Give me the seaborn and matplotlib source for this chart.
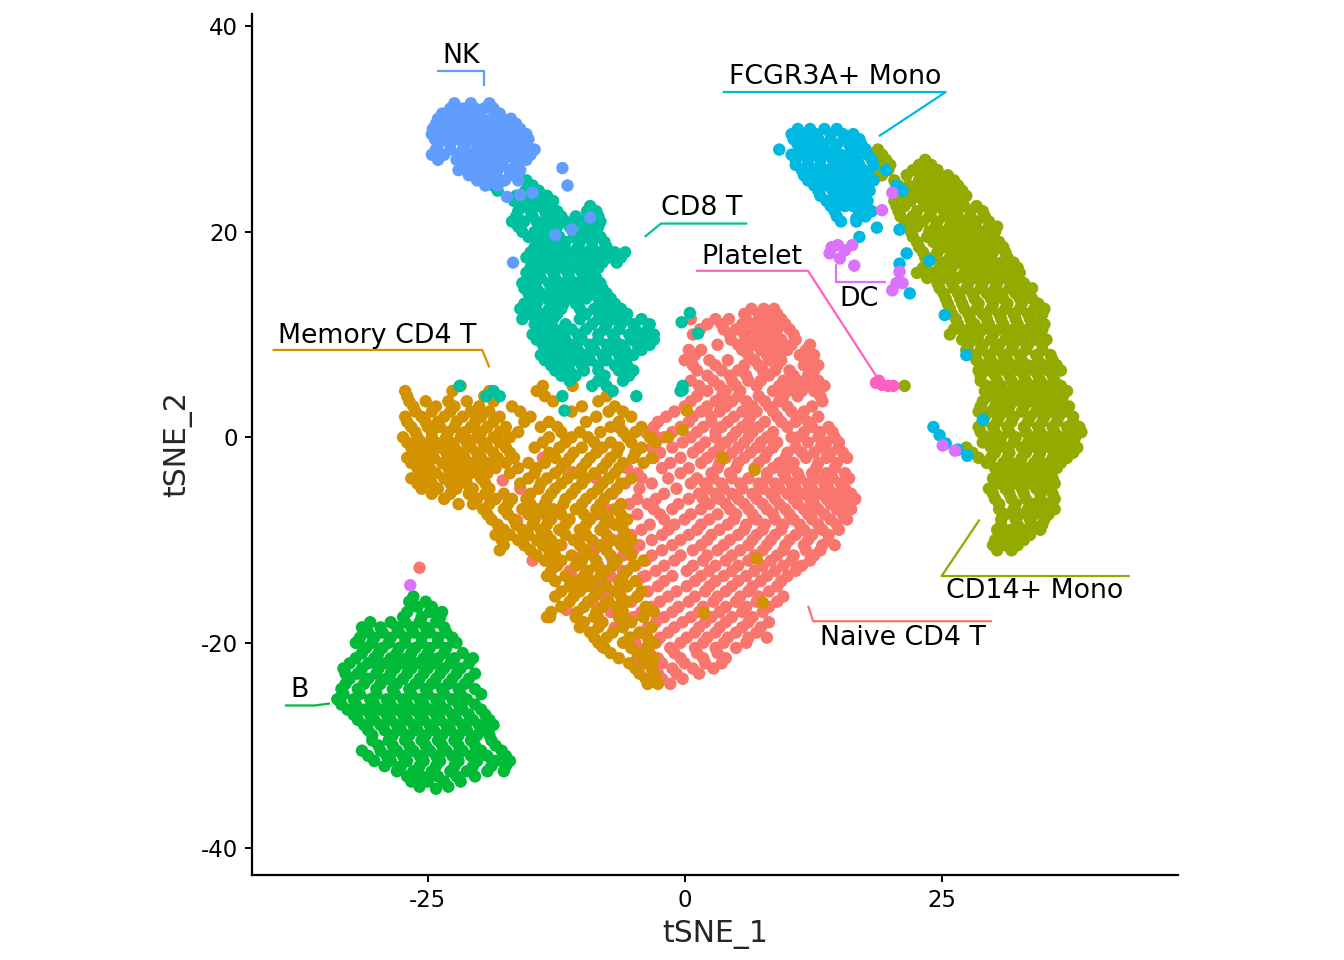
import numpy as np
import pandas as pd
import matplotlib
matplotlib.use("Agg")
import matplotlib.pyplot as plt
import seaborn as sns

# ------------------------------------------------------------
# cluster names + ggplot-style hue colours
# ------------------------------------------------------------
clusters = ["Naive CD4 T", "Memory CD4 T", "CD14+ Mono", "B", "CD8 T",
            "FCGR3A+ Mono", "NK", "DC", "Platelet"]
colors = ["#F8766D", "#D39200", "#93AA00", "#00BA38", "#00C19F",
          "#00B9E3", "#619CFF", "#DB72FB", "#FF61C3"]

# ------------------------------------------------------------
# cell coordinates, row by row (tSNE_2: [tSNE_1 ...])
# ------------------------------------------------------------
naive_rows = {
    12.5: [6.5, 7.7, 8.7],
    11.5: [0.6, 3.0, 4.3, 6.0, 7.2, 8.4, 9.4],
    10.5: [1.5, 3.8, 5.0, 6.6, 7.8, 9.0, 10.2],
    9.5: [4.5, 6.0, 7.0, 8.2, 9.4, 10.8],
    8.5: [0.4, 1.6, 5.6, 7.4, 8.8, 10.0, 11.8],
    7.5: [0.0, 2.4, 4.2, 6.8, 8.2, 9.4, 12.2],
    6.5: [1.2, 3.6, 5.2, 7.6, 8.8, 10.2, 12.6],
    5.5: [0.6, 2.8, 4.6, 6.2, 7.4, 9.6, 11.0, 13.0],
    4.5: [2.2, 4.0, 5.4, 8.6, 10.0, 11.4, 12.6],
    3.5: [0.6, 3.0, 4.6, 6.0, 7.8, 9.2, 13.4],
    2.5: [-1.0, 1.6, 3.4, 5.6, 7.0, 8.6, 10.4, 11.6],
    1.5: [-2.6, 0.4, 2.6, 4.2, 6.2, 7.8, 9.4, 10.8, 12.0],
    0.5: [-3.8, -1.2, 1.2, 3.0, 5.0, 6.6, 8.6, 11.6, 13.2, 14.4],
    -0.5: [-0.2, 2.0, 4.0, 5.8, 7.4, 9.0, 12.0, 13.8, 15.0],
    -1.5: [-2.4, 0.8, 2.8, 4.6, 6.4, 8.0, 10.0, 11.4, 12.6, 14.2, 15.4],
    -2.5: [-1.4, 1.6, 3.4, 5.2, 7.2, 9.2, 10.6, 13.0, 14.8],
    -3.5: [-4.6, -0.4, 2.6, 4.4, 8.0, 9.6, 11.0, 12.4, 13.8, 15.6],
    -4.5: [-5.8, -3.2, 0.6, 2.0, 3.6, 5.4, 7.2, 8.8, 10.4, 12.0, 13.6, 15.2],
    -5.5: [-7.0, -2.0, 1.4, 3.0, 4.6, 6.6, 8.4, 10.0, 11.6, 13.2, 14.6, 16.2],
    -6.5: [-5.4, -3.6, -0.6, 2.4, 4.0, 5.8, 7.6, 9.2, 11.0, 12.6, 14.2, 15.8],
    -7.5: [-8.6, -4.6, -2.4, 0.6, 3.2, 5.0, 6.6, 8.6, 10.2, 12.0, 13.6, 15.4],
    -8.5: [-6.8, -3.4, -1.0, 1.6, 4.2, 6.0, 7.8, 9.6, 11.2, 13.0, 14.8],
    -9.5: [-9.6, -5.2, -2.2, 0.4, 2.6, 5.2, 7.0, 8.8, 10.8, 12.4, 14.0],
    -10.5: [-12.0, -7.6, -4.4, -1.2, 1.6, 3.8, 6.2, 8.0, 9.8, 11.6, 13.4, 14.6],
    -11.5: [-10.0, -6.0, -3.2, -0.4, 2.2, 4.6, 6.8, 9.0, 10.6, 12.6],
    -12.5: [-8.4, -4.8, -2.0, 0.8, 3.0, 5.2, 7.6, 9.6, 11.4],
    -13.5: [-11.0, -7.2, -3.8, -1.2, 1.6, 3.8, 6.0, 8.0, 10.0],
    -14.5: [-9.0, -5.6, -2.6, 0.2, 2.4, 4.6, 6.6, 9.0],
    -15.5: [-7.8, -4.6, -1.6, 1.0, 3.2, 5.4, 7.2, 9.6],
    -16.5: [-6.4, -3.2, -0.6, 1.8, 4.0, 6.0, 8.2],
    -17.5: [-8.4, -5.0, -2.0, 0.6, 2.6, 4.6, 6.6],
    -18.5: [-6.8, -3.6, -1.0, 1.4, 3.4, 5.6, 7.4],
    -19.5: [-5.2, -2.4, 0.2, 2.2, 4.2, 6.2, 8.0],
    -20.5: [-3.8, -1.4, 1.0, 3.0, 5.0],
    -21.5: [-4.6, -2.6, -0.4, 1.8, 4.0],
    -22.5: [-3.2, -1.2, 0.8, 2.8],
    -23.5: [-2.2, -0.2],
}
naive_rows_mid = {
    12.0: [5.8, 7.2, 8.2, 9.0],
    11.0: [2.2, 3.6, 5.6, 6.8, 8.0, 9.8],
    10.0: [0.8, 4.4, 5.8, 7.2, 8.6, 10.6],
    9.0: [3.2, 5.2, 6.6, 7.8, 9.0, 10.4, 12.2],
    8.0: [1.0, 6.2, 8.0, 9.2, 11.2, 12.6],
    7.0: [0.8, 3.0, 5.8, 7.2, 9.0, 11.6, 13.0],
    6.0: [2.2, 4.4, 6.0, 8.2, 10.6, 12.0],
    5.0: [1.4, 3.4, 5.0, 7.0, 9.2, 10.6, 12.0, 13.6],
    4.0: [1.2, 3.6, 5.2, 7.2, 9.6, 11.0, 13.2],
    3.0: [0.0, 2.2, 4.0, 6.6, 8.2, 10.0, 12.4],
    2.0: [-1.8, 0.8, 2.6, 4.8, 6.4, 9.0, 11.2, 13.0],
    1.0: [-3.0, -0.4, 1.8, 3.6, 5.6, 7.2, 10.0, 12.4, 14.0],
    0.0: [-2.0, 0.6, 3.0, 4.6, 6.2, 8.0, 10.4, 11.0, 13.0, 14.6],
    -1.0: [-3.2, -1.2, 1.4, 3.4, 5.2, 7.0, 8.6, 10.8, 13.2, 15.0],
    -2.0: [-3.0, -0.4, 2.2, 4.0, 5.8, 7.8, 9.8, 11.8, 13.8, 15.8],
    -3.0: [-5.6, -2.2, 0.4, 3.2, 5.0, 6.8, 8.6, 10.2, 12.8, 14.6],
    -4.0: [-4.2, -1.6, 1.2, 2.8, 4.6, 6.2, 8.0, 9.8, 11.2, 12.8, 14.4, 16.0],
    -5.0: [-6.6, -4.4, -0.8, 2.2, 3.8, 5.6, 7.6, 9.2, 10.8, 12.4, 14.0, 15.6],
    -6.0: [-4.6, -2.8, 0.4, 1.8, 3.4, 5.2, 7.0, 8.8, 10.6, 12.2, 13.8, 15.2, 16.6],
    -7.0: [-7.6, -3.0, -1.2, 1.6, 4.4, 6.2, 8.0, 9.8, 11.6, 13.0, 14.8, 16.2],
    -8.0: [-5.6, -2.0, 0.0, 2.4, 4.8, 7.0, 8.8, 10.6, 12.4, 14.2, 15.8],
    -9.0: [-8.0, -4.2, -1.6, 1.2, 3.4, 5.8, 7.6, 9.4, 11.6, 13.4, 15.0],
    -10.0: [-10.6, -6.4, -3.2, -0.4, 2.2, 4.4, 6.6, 8.4, 10.2, 12.0, 14.0],
    -11.0: [-8.8, -5.0, -2.2, 0.8, 3.2, 5.4, 7.6, 9.6, 11.8, 13.2],
    -12.0: [-7.0, -3.8, -1.0, 1.8, 4.0, 6.2, 8.4, 10.4, 12.2],
    -13.0: [-9.6, -6.0, -2.8, 0.2, 2.4, 4.6, 6.8, 8.8, 10.8],
    -14.0: [-8.0, -4.6, -2.0, 1.0, 3.0, 5.2, 7.4, 9.4],
    -15.0: [-6.6, -3.6, -0.8, 2.0, 4.0, 6.2, 8.2],
    -16.0: [-9.0, -5.2, -2.4, 0.4, 2.8, 5.0, 7.0, 9.0],
    -17.0: [-7.2, -4.2, -1.2, 1.4, 3.4, 5.6, 7.6],
    -18.0: [-5.8, -2.8, -0.2, 2.0, 4.0, 6.2, 8.2],
    -19.0: [-4.4, -1.6, 1.0, 3.0, 5.0, 7.0],
    -20.0: [-4.8, -2.8, -0.4, 1.8, 3.8, 6.0],
    -21.0: [-3.4, -1.0, 1.2, 3.2],
    -22.0: [-4.0, -2.2, 0.0, 2.0, 3.6],
    -23.0: [-2.6, -0.8, 1.4],
    -24.0: [-1.4],
}
naive_extra = [(-25.8, -12.7), (-20.9, -0.3), (-17.7, -4.2), (-16.0, -5.0),
               (-16.3, -8.1), (-13.8, -2.0), (-10.9, -3.4), (-8.6, -4.0),
               (-6.3, 0.9), (-2.7, 0.0), (-14.8, -12.0), (-12.8, -12.2),
               (-11.2, -13.0), (-11.5, -16.8), (-8.0, -20.4), (-6.0, -16.2),
               (-4.1, -13.6), (-4.4, 9.7)]

memory_rows = {
    5.0: [-21.8, -13.8, -10.9],
    4.0: [-27.0, -19.5, -13.6, -7.6],
    3.0: [-26.4, -24.2, -22.4, -20.0, -16.8, -10.0, -6.8],
    2.0: [-27.2, -25.6, -23.4, -21.6, -19.8, -18.0, -15.0, -8.6, -5.2],
    1.0: [-26.6, -25.0, -23.8, -22.4, -20.8, -19.2, -17.4, -14.0, -12.4, -7.2, -4.2],
    0.0: [-27.4, -26.0, -24.6, -23.2, -21.8, -20.2, -18.6, -17.0, -13.2, -11.0,
          -9.4, -5.6, -3.4, -1.6],
    -1.0: [-26.6, -25.2, -23.8, -22.4, -20.8, -19.2, -17.4, -14.6, -12.2, -10.0,
           -8.0, -6.4, -4.2],
    -2.0: [-27.0, -25.6, -24.4, -22.8, -21.4, -19.8, -18.2, -16.6, -12.6, -11.2,
           -9.2, -7.2, -5.0, -3.2],
    -3.0: [-26.0, -24.8, -23.0, -21.6, -20.0, -18.4, -16.2, -14.4, -12.0, -10.0,
           -8.0, -6.4],
    -4.0: [-26.6, -25.0, -23.4, -21.8, -19.8, -15.2, -13.4, -11.4, -9.6, -7.4, -5.2],
    -5.0: [-25.6, -24.0, -22.2, -20.6, -19.0, -14.2, -12.6, -10.6, -8.4, -6.6],
    -6.0: [-23.4, -20.2, -18.4, -16.8, -15.4, -13.4, -11.6, -9.6, -7.8],
    -7.0: [-19.6, -17.6, -15.8, -14.4, -12.8, -10.6, -8.6, -6.8],
    -8.0: [-18.8, -16.6, -14.6, -13.0, -11.2, -9.2, -7.4, -5.6],
    -9.0: [-17.6, -15.8, -14.0, -12.2, -10.2, -8.2, -6.0],
    -10.0: [-17.8, -16.2, -14.4, -13.0, -10.8, -9.0, -7.0, -5.2],
    -11.0: [-18.0, -15.0, -13.2, -9.6, -7.6, -5.6],
    -12.0: [-13.6, -12.0, -10.0, -8.6, -6.6, -4.0],
    -13.0: [-13.0, -9.4, -7.6, -5.6],
    -14.0: [-12.6, -10.6, -9.0, -6.4, -4.8],
    -15.0: [-12.0, -10.2, -8.4, -6.8, -4.2],
    -16.0: [-11.2, -9.4, -7.4, -5.6],
    -17.0: [-13.0, -10.4, -8.6, -6.0, -3.0],
    -18.0: [-9.8, -8.0, -5.2],
    -19.0: [-9.2, -7.0, -4.4],
    -20.0: [-8.4, -6.0, -3.0],
    -21.0: [-7.2, -4.6],
    -22.0: [-5.4, -3.6],
    -23.0: [-4.4, -3.0],
    -24.0: [-3.6, -2.6],
}
memory_rows_mid = {
    4.5: [-27.2, -22.6, -19.0, -14.4],
    3.5: [-26.8, -25.2, -23.0, -21.2, -18.6, -12.8, -8.4],
    2.5: [-26.2, -24.6, -22.8, -20.8, -19.0, -16.0, -11.0, -7.4, -6.0],
    1.5: [-27.0, -25.2, -24.0, -22.2, -20.4, -18.6, -15.6, -13.2, -9.6, -6.4],
    0.5: [-26.2, -24.6, -23.0, -21.4, -19.8, -18.0, -16.2, -12.0, -10.2, -8.2,
          -6.0, -4.8],
    -0.5: [-27.0, -25.6, -24.2, -22.8, -21.2, -19.6, -18.0, -13.8, -11.6, -8.8,
           -7.2, -5.2, -2.8],
    -1.5: [-26.2, -24.8, -23.2, -21.8, -20.2, -18.6, -17.0, -13.2, -10.8, -8.6,
           -6.6, -4.8],
    -2.5: [-26.6, -25.2, -23.6, -22.2, -20.6, -19.0, -17.4, -15.2, -13.6, -11.6,
           -9.6, -7.6, -6.0, -4.0],
    -3.5: [-25.6, -24.2, -22.4, -20.8, -19.2, -17.0, -14.6, -12.6, -10.6, -8.8, -6.8],
    -4.5: [-26.0, -24.6, -22.8, -21.2, -19.4, -16.0, -14.0, -12.0, -10.0, -8.0, -6.2],
    -5.5: [-24.6, -22.8, -21.0, -19.4, -17.6, -15.0, -13.0, -11.0, -9.0, -7.2],
    -6.5: [-22.0, -20.6, -19.0, -17.2, -15.0, -13.6, -11.8, -10.0, -8.2, -6.2],
    -7.5: [-19.2, -17.2, -15.2, -13.6, -12.0, -9.8, -8.0, -6.2],
    -8.5: [-18.2, -16.4, -14.8, -13.4, -11.6, -9.6, -7.8, -6.6],
    -9.5: [-18.4, -17.0, -15.2, -13.4, -11.6, -9.6, -7.6, -5.8],
    -10.5: [-17.6, -15.6, -13.8, -12.2, -10.2, -8.2, -6.2],
    -11.5: [-14.4, -12.6, -11.0, -9.0, -7.2, -5.2],
    -12.5: [-12.4, -10.6, -8.6, -7.0, -5.0],
    -13.5: [-13.4, -11.6, -9.8, -8.2, -6.0],
    -14.5: [-11.2, -9.6, -7.6, -5.6],
    -15.5: [-12.6, -10.8, -8.8, -6.2, -4.6],
    -16.5: [-12.0, -9.8, -8.0, -6.6, -3.8],
    -17.5: [-13.4, -10.6, -8.8, -6.4, -4.0],
    -18.5: [-10.2, -8.4, -6.0, -3.2],
    -19.5: [-8.8, -7.6, -5.4, -3.6],
    -20.5: [-7.8, -5.2, -3.6],
    -21.5: [-6.4, -4.0, -3.0],
    -22.5: [-4.8, -3.2],
    -23.5: [-3.8, -2.8],
}
memory_extra = [(3.7, -2.0), (6.8, -3.2), (7.0, -11.8), (1.9, -17.1),
                (7.6, -16.1), (0.2, 2.6), (-0.2, 0.7), (-13.1, -17.5)]

cd14_rows = {
    28.0: [17.6, 18.8],
    27.0: [18.2, 19.6, 23.4],
    26.0: [18.4, 19.8, 22.2, 23.4, 24.6],
    25.0: [20.4, 22.8, 24.0, 25.2, 26.2],
    24.0: [21.0, 22.4, 23.6, 24.8, 26.0, 27.0],
    23.0: [20.4, 22.0, 23.2, 24.4, 25.6, 26.8],
    22.0: [20.8, 22.6, 24.0, 25.2, 26.4, 27.8, 29.0],
    21.0: [21.4, 23.2, 24.6, 26.0, 27.2, 28.4, 29.6],
    20.0: [22.0, 23.8, 25.2, 26.6, 27.8, 29.0, 30.2],
    19.0: [22.6, 24.2, 25.8, 27.0, 28.4, 29.6, 30.6],
    18.0: [23.2, 24.6, 26.2, 27.6, 28.8, 30.0, 31.2],
    17.0: [23.6, 25.2, 26.6, 28.0, 29.4, 30.8, 32.0],
    16.0: [22.6, 24.2, 25.6, 27.2, 28.6, 30.0, 31.4, 32.6],
    15.0: [24.6, 26.0, 27.6, 29.0, 30.4, 31.8, 33.0],
    14.0: [25.2, 26.6, 28.0, 29.4, 30.8, 32.2, 33.4],
    13.0: [25.6, 27.0, 28.6, 30.0, 31.4, 32.8, 34.4],
    12.0: [26.0, 27.6, 29.0, 30.6, 32.0, 33.4, 34.8],
    11.0: [26.6, 28.2, 29.6, 31.0, 32.4, 33.8, 35.0],
    10.0: [25.8, 27.2, 28.6, 30.0, 31.6, 33.0, 34.4],
    9.0: [27.6, 29.0, 30.6, 32.0, 33.4, 34.8],
    8.0: [28.0, 29.6, 31.0, 32.6, 34.2, 35.6],
    7.0: [29.0, 30.4, 32.0, 33.4, 35.0, 36.2],
    6.0: [28.8, 30.2, 31.6, 33.0, 34.4, 35.8],
    5.0: [21.4, 29.4, 30.8, 32.4, 33.8, 35.2, 36.6],
    4.0: [29.6, 31.0, 32.6, 34.0, 35.4, 36.8],
    3.0: [28.8, 30.2, 31.6, 33.0, 34.6, 36.0, 37.4],
    2.0: [29.2, 30.6, 32.0, 33.6, 35.0, 36.4, 37.8],
    1.0: [28.6, 30.0, 31.4, 33.0, 34.4, 35.8, 37.2, 38.4],
    0.0: [29.4, 30.8, 32.2, 33.8, 35.2, 36.6, 38.0],
    -1.0: [27.4, 29.8, 31.2, 32.8, 34.2, 35.6, 37.0, 38.2],
    -2.0: [28.6, 29.8, 31.4, 32.8, 34.4, 35.8, 37.2],
    -3.0: [30.2, 31.6, 33.2, 34.8, 36.2],
    -4.0: [30.0, 31.4, 33.0, 34.6, 35.8],
    -5.0: [29.6, 31.2, 32.8, 34.2, 35.6],
    -6.0: [30.2, 31.8, 33.2, 34.6, 36.0],
    -7.0: [30.6, 32.0, 33.4, 34.8, 36.0],
    -8.0: [30.8, 32.2, 33.6, 35.0],
    -9.0: [30.4, 31.8, 33.2, 34.6],
    -10.0: [30.2, 31.6, 33.0],
    -11.0: [30.4, 31.8],
}
cd14_rows_mid = {
    27.5: [18.0, 19.2],
    26.5: [18.6, 20.0, 22.8, 24.0],
    25.5: [19.2, 21.6, 23.0, 24.4, 25.6],
    24.5: [20.8, 21.8, 23.2, 24.4, 25.6, 26.6],
    23.5: [21.4, 22.8, 24.0, 25.2, 26.4, 27.4],
    22.5: [20.6, 21.4, 23.4, 24.6, 25.8, 27.2, 28.4],
    21.5: [21.0, 22.2, 23.8, 25.4, 26.6, 27.8, 29.2],
    20.5: [21.8, 22.6, 24.4, 25.8, 27.0, 28.2, 29.6, 30.4],
    19.5: [22.2, 23.6, 24.8, 26.2, 27.4, 28.8, 30.0],
    18.5: [22.8, 25.2, 26.6, 28.0, 29.2, 30.6, 31.0],
    17.5: [23.4, 24.2, 25.8, 27.2, 28.4, 29.8, 31.4],
    16.5: [23.2, 24.8, 26.0, 27.6, 29.0, 30.4, 31.8, 32.4],
    15.5: [23.6, 25.2, 26.6, 28.2, 29.6, 31.0, 32.4],
    14.5: [24.8, 26.2, 27.4, 28.8, 30.2, 31.6, 32.8, 33.8],
    13.5: [25.4, 26.8, 28.2, 29.8, 31.0, 32.6, 33.8],
    12.5: [25.8, 27.2, 28.4, 29.8, 31.2, 32.6, 34.0, 35.0],
    11.5: [26.4, 27.8, 29.4, 30.8, 32.2, 33.6, 34.6],
    10.5: [26.2, 27.6, 29.0, 30.6, 32.0, 33.4, 34.8],
    9.5: [27.0, 28.2, 29.8, 31.2, 32.6, 34.0, 35.2],
    8.5: [27.4, 28.8, 30.2, 31.8, 33.2, 34.8],
    7.5: [28.4, 29.8, 31.4, 32.8, 34.4, 35.8],
    6.5: [28.6, 29.6, 31.2, 32.6, 34.0, 35.4, 36.6],
    5.5: [28.8, 30.4, 31.8, 33.2, 34.6, 36.0],
    4.5: [29.2, 30.4, 31.8, 33.2, 34.8, 36.2, 37.2],
    3.5: [29.0, 30.6, 32.0, 33.6, 35.0, 36.4],
    2.5: [28.6, 29.8, 31.2, 32.8, 34.2, 35.6, 37.0],
    1.5: [29.0, 30.4, 31.8, 33.4, 34.8, 36.2, 37.8],
    0.5: [28.8, 30.2, 31.6, 33.2, 34.6, 36.0, 37.4, 38.6],
    -0.5: [29.0, 30.4, 32.0, 33.4, 34.8, 36.2, 37.6],
    -1.5: [28.0, 30.2, 31.6, 33.2, 34.6, 36.4, 37.8],
    -2.5: [29.4, 31.0, 32.4, 34.0, 35.4, 36.6],
    -3.5: [30.6, 32.2, 33.8, 35.2],
    -4.5: [30.4, 32.0, 33.6, 35.0, 36.0],
    -5.5: [30.0, 31.6, 33.0, 34.6, 35.8],
    -6.5: [30.6, 32.2, 33.8, 35.2],
    -7.5: [31.2, 32.6, 34.0, 35.4],
    -8.5: [30.8, 32.4, 33.8, 34.8],
    -9.5: [30.8, 32.2, 33.6],
    -10.5: [30.0, 31.2, 32.4],
}

b_rows = {
    -15.5: [-26.4],
    -16.5: [-26.0, -24.6],
    -17.5: [-27.4, -25.6, -23.8],
    -18.5: [-31.4, -29.6, -28.0, -26.6, -25.2, -23.4],
    -19.5: [-31.6, -30.2, -28.6, -27.2, -25.6, -24.0, -22.6],
    -20.5: [-31.0, -29.4, -27.8, -26.2, -24.8, -23.2],
    -21.5: [-32.0, -30.2, -28.6, -27.0, -25.4, -24.0, -22.4, -20.6],
    -22.5: [-33.2, -31.4, -29.8, -28.2, -26.6, -25.0, -23.4, -21.8],
    -23.5: [-32.6, -30.8, -29.0, -27.4, -25.8, -24.2, -22.6, -21.0],
    -24.5: [-33.4, -31.8, -30.0, -28.4, -26.8, -25.2, -23.6, -22.0, -20.4],
    -25.5: [-33.8, -32.2, -30.6, -29.0, -27.4, -25.8, -24.2, -22.6, -21.2],
    -26.5: [-32.8, -31.2, -29.6, -28.0, -26.4, -24.8, -23.2, -21.6, -19.8],
    -27.5: [-31.8, -30.2, -28.6, -27.0, -25.4, -23.8, -22.2, -20.6, -19.0],
    -28.5: [-30.8, -29.2, -27.6, -26.0, -24.4, -22.8, -21.2, -19.6],
    -29.5: [-30.4, -28.8, -27.2, -25.6, -24.0, -22.4, -20.8, -18.8],
    -30.5: [-31.4, -29.6, -28.0, -26.4, -24.8, -23.2, -21.6, -19.8, -17.8],
    -31.5: [-30.2, -28.6, -27.0, -25.4, -23.8, -22.0, -20.2, -18.4, -17.0],
    -32.5: [-28.0, -26.4, -24.6, -22.8, -21.2, -19.2, -17.6],
    -33.5: [-26.6, -25.0, -23.4, -21.8],
    -34.2: [-24.2],
}
b_rows_mid = {
    -16.0: [-26.8, -25.2],
    -17.0: [-27.0, -24.8, -23.6],
    -18.0: [-30.6, -28.6, -27.2, -25.8, -24.2],
    -19.0: [-30.8, -29.4, -27.8, -26.4, -24.8, -23.2],
    -20.0: [-32.0, -30.4, -28.8, -27.2, -25.6, -24.0, -22.2],
    -21.0: [-31.4, -29.8, -28.0, -26.6, -25.0, -23.4, -21.6],
    -22.0: [-32.6, -30.8, -29.2, -27.6, -26.0, -24.4, -22.8, -21.0],
    -23.0: [-33.0, -31.8, -30.0, -28.6, -27.0, -25.4, -23.8, -22.2, -20.4],
    -24.0: [-33.0, -31.2, -29.6, -28.0, -26.2, -24.6, -23.0, -21.4],
    -25.0: [-33.2, -31.6, -30.0, -28.2, -26.6, -25.0, -23.4, -21.8, -19.8],
    -26.0: [-33.4, -32.0, -30.2, -28.6, -27.0, -25.4, -23.8, -22.0, -20.4],
    -27.0: [-32.2, -30.6, -29.0, -27.4, -25.8, -24.2, -22.6, -21.0, -19.4],
    -28.0: [-31.2, -29.6, -28.0, -26.4, -24.8, -23.2, -21.6, -20.0, -18.6],
    -29.0: [-30.4, -28.4, -26.8, -25.2, -23.6, -22.0, -20.2, -19.0],
    -30.0: [-29.8, -28.4, -26.8, -25.2, -23.6, -22.0, -20.4, -18.4],
    -31.0: [-30.8, -29.0, -27.4, -25.8, -24.2, -22.6, -20.8, -19.2, -17.4],
    -32.0: [-29.2, -27.6, -25.8, -24.2, -22.4, -20.6, -18.8, -17.4],
    -33.0: [-27.0, -25.6, -24.0, -22.2, -20.4],
    -34.0: [-25.8, -23.0],
}

cd8_rows = {
    25.0: [-18.4, -15.4],
    24.0: [-18.2, -15.5, -14.2],
    23.0: [-16.6, -15.2, -14.0, -12.8],
    22.0: [-16.2, -15.0, -13.6, -12.4, -9.5, -8.6],
    21.0: [-16.8, -15.6, -14.4, -13.0, -11.6, -10.2, -9.0, -8.2],
    20.0: [-15.8, -14.6, -13.2, -10.8, -9.8, -8.6],
    19.0: [-14.2, -12.8, -11.6, -10.2, -9.0, -7.8],
    18.0: [-15.0, -13.8, -12.4, -11.0, -9.6, -8.4, -6.8, -5.8],
    17.0: [-14.6, -13.2, -11.8, -10.4, -9.2, -8.0, -6.6],
    16.0: [-15.4, -14.2, -12.8, -11.4, -10.0, -8.8],
    15.0: [-15.8, -14.6, -13.2, -12.0, -10.6, -9.4, -8.2],
    14.0: [-15.2, -14.0, -12.6, -11.4, -10.2, -9.0, -7.6],
    13.0: [-15.6, -14.4, -13.0, -11.8, -10.6, -8.2, -6.8],
    12.0: [-15.2, -13.8, -12.4, -9.6, -8.0, -6.8, -5.6],
    11.0: [-14.6, -13.2, -11.6, -9.0, -7.6, -6.2, -5.0, -3.4],
    10.0: [-14.8, -13.6, -12.0, -10.4, -8.4, -7.0, -5.4, -4.0, -3.0],
    9.0: [-13.8, -12.4, -10.8, -9.2, -7.6, -6.2, -4.6, -3.4],
    8.0: [-14.0, -12.6, -11.2, -9.8, -8.0, -6.4, -5.0],
    7.0: [-13.0, -11.6, -10.0, -8.4, -6.8, -5.6],
    6.0: [-12.0, -10.6, -7.8, -5.4],
    5.0: [-21.9, -9.0, -7.6, -0.2],
    4.0: [-19.3, -18.0, -11.9, -4.7],
}
cd8_rows_mid = {
    24.5: [-18.6, -14.8],
    23.5: [-16.4, -14.8, -13.4],
    22.5: [-15.8, -14.4, -13.0, -9.2],
    21.5: [-16.4, -14.8, -13.4, -12.0, -10.6, -9.4, -8.4],
    20.5: [-16.2, -14.0, -12.4, -11.2, -9.4, -8.4],
    19.5: [-15.2, -13.8, -12.2, -10.8, -9.4, -8.2],
    18.5: [-14.6, -13.2, -11.8, -10.4, -9.0, -7.6],
    17.5: [-15.4, -14.2, -12.8, -11.4, -10.0, -8.8, -7.4, -6.2],
    16.5: [-15.0, -13.6, -12.2, -10.8, -9.6, -8.4],
    15.5: [-15.2, -14.0, -12.6, -11.2, -9.8, -8.6],
    14.5: [-15.6, -14.4, -13.0, -11.6, -10.4, -9.2, -8.0],
    13.5: [-14.6, -13.4, -12.2, -11.0, -9.6, -8.4, -7.2],
    12.5: [-16.0, -14.6, -13.2, -12.0, -10.2, -8.8, -7.4, -6.2],
    11.5: [-15.8, -14.2, -12.8, -10.2, -8.4, -7.0, -5.8, -4.2],
    10.5: [-14.0, -12.6, -11.0, -9.6, -7.8, -6.4, -4.8, -3.6],
    9.5: [-14.4, -13.0, -11.6, -10.0, -8.4, -6.8, -5.2, -4.0, -3.0],
    8.5: [-13.2, -11.8, -10.4, -8.8, -7.2, -5.8, -4.2],
    7.5: [-13.6, -12.2, -10.8, -9.2, -7.6, -6.0],
    6.5: [-12.6, -11.2, -9.8, -8.4, -6.4, -5.0],
    5.5: [-11.2, -8.4, -6.0],
    4.5: [-18.6, -7.0, -0.4],
}
cd8_extra = [(-0.3, 11.2), (0.5, 12.1), (1.3, 10.1), (-0.2, 4.6), (-11.7, 2.6)]

fcgr_rows = {
    30.0: [11.0, 12.2, 13.6, 14.8],
    29.0: [10.6, 11.8, 13.0, 14.2, 15.6, 17.0],
    28.0: [9.2, 11.2, 12.4, 13.6, 14.6, 16.2, 17.6],
    27.0: [10.8, 12.0, 13.2, 14.4, 15.6, 16.8, 18.2],
    26.0: [11.4, 12.6, 13.8, 15.0, 16.2, 17.4, 19.6],
    25.0: [12.0, 13.4, 14.8, 16.0, 17.0, 18.4],
    24.0: [13.0, 14.4, 15.6, 16.8, 18.0, 21.2],
    23.0: [13.8, 15.0, 16.6, 17.8],
    22.0: [14.6, 17.0, 18.2],
    21.0: [15.2, 16.7],
}
fcgr_rows_mid = {
    29.5: [10.4, 11.6, 12.8, 14.2, 15.4, 16.4],
    28.5: [11.0, 12.2, 13.4, 14.8, 16.0, 17.2],
    27.5: [10.4, 11.6, 12.8, 14.0, 15.2, 16.6, 17.8],
    26.5: [10.8, 12.0, 13.2, 14.6, 15.8, 17.0, 18.4],
    25.5: [11.6, 12.8, 14.0, 15.4, 16.6, 17.8],
    24.5: [12.6, 13.8, 15.0, 16.2, 17.4, 20.6],
    23.5: [13.2, 14.6, 16.0, 17.2],
    22.5: [14.2, 15.6, 16.4, 17.6],
    21.5: [14.8, 17.6],
}
fcgr_extra = [(17.0, 19.5), (18.7, 20.4), (20.9, 20.2), (21.6, 17.9), (20.9, 16.9),
              (23.8, 17.2), (21.9, 14.0), (25.3, 11.9), (27.4, 8.0), (16.7, 21.3),
              (24.2, 1.0), (24.8, 0.2), (25.4, -0.6), (26.6, -1.2), (27.5, -1.8),
              (29.0, 1.7)]

nk_rows = {
    32.0: [-22.8, -21.5, -20.4, -19.5, -18.6],
    31.0: [-24.0, -23.0, -22.0, -20.8, -19.8, -18.8, -17.8, -16.9],
    30.0: [-24.5, -23.5, -22.4, -21.2, -20.2, -19.0, -18.0, -17.0, -16.0],
    29.0: [-24.3, -23.3, -22.0, -20.6, -19.5, -18.4, -17.4, -16.4, -15.2],
    28.0: [-24.2, -22.8, -21.6, -20.3, -19.2, -18.2, -17.0, -15.8, -14.6],
    27.0: [-24.0, -22.2, -21.0, -20.0, -18.8, -17.6, -16.5, -15.4],
    26.0: [-22.0, -20.6, -19.4, -18.2, -17.0, -16.0],
    25.0: [-20.2, -19.0, -17.5, -16.2],
    24.5: [-19.4, -18.2],
}
nk_rows_mid = {
    32.5: [-22.4, -20.8, -19.0],
    31.5: [-23.6, -22.4, -21.2, -20.0, -18.0],
    30.5: [-24.2, -23.0, -21.8, -20.6, -19.4, -18.4, -17.4, -16.4],
    29.5: [-24.6, -23.8, -22.8, -21.6, -20.4, -19.2, -18.2, -17.2, -16.0, -15.4],
    28.5: [-24.0, -22.8, -21.4, -20.0, -18.8, -17.8, -16.6, -15.4],
    27.5: [-24.6, -23.4, -22.0, -20.8, -19.6, -18.4, -17.2, -16.0, -15.0],
    26.5: [-21.4, -20.2, -19.0, -17.8, -16.4],
    25.5: [-21.0, -19.8, -18.4, -17.0],
}
nk_extra = [(-11.9, 26.2), (-11.4, 24.5), (-17.3, 23.4), (-16.0, 23.6),
            (-16.7, 17.0), (-9.2, 21.4), (-12.6, 19.7), (-11.0, 20.2),
            (-14.8, 23.8)]

dc_points = [(14.1, 17.9), (14.9, 18.7), (15.6, 18.2), (16.3, 18.7), (15.1, 17.4),
             (16.5, 16.7), (14.3, 18.5), (20.2, 23.8), (19.2, 22.1), (20.9, 16.1),
             (20.6, 15.0), (21.2, 15.0), (20.2, 14.3), (26.3, -1.3), (25.1, -0.8),
             (-26.7, -14.4)]

platelet_points = [(18.6, 5.3), (19.2, 5.1), (19.8, 5.0), (20.3, 5.0), (18.9, 5.5)]

# ------------------------------------------------------------
# cluster labels: text position + repel segment path
# ------------------------------------------------------------
label_names = ["NK", "FCGR3A+ Mono", "CD8 T", "Platelet", "DC",
               "Memory CD4 T", "CD14+ Mono", "Naive CD4 T", "B"]
label_x = [-21.8, 14.6, 1.65, 6.5, 17.0, -29.9, 34.0, 21.2, -37.5]
label_y = [37.1, 35.1, 22.3, 17.5, 13.5, 9.9, -15.0, -19.5, -24.6]
seg_x = [[-24.1, -19.5, -19.5], [3.7, 25.4, 18.9], [6.1, -2.3, -3.9],
         [1.1, 12.0, 19.0], [19.6, 14.7, 14.7], [-40.1, -19.7, -19.0],
         [43.3, 25.0, 28.7], [29.9, 12.5, 12.0], [-38.9, -36.0, -34.5]]
seg_y = [[35.6, 35.6, 34.2], [33.6, 33.6, 29.3], [20.8, 20.8, 19.5],
         [16.2, 16.2, 5.4], [15.1, 15.1, 16.9], [8.5, 8.5, 6.8],
         [-13.5, -13.5, -8.0], [-17.9, -17.9, -16.4], [-26.1, -26.1, -25.9]]


def expand(*row_sets, extra=()):
    xs, ys = [], []
    for rows in row_sets:
        for y, row in rows.items():
            xs += row
            ys += [y] * len(row)
    for x, y in extra:
        xs.append(x)
        ys.append(y)
    return xs, ys


parts = [
    ("Naive CD4 T", expand(naive_rows, naive_rows_mid, extra=naive_extra)),
    ("Memory CD4 T", expand(memory_rows, memory_rows_mid, extra=memory_extra)),
    ("CD14+ Mono", expand(cd14_rows, cd14_rows_mid)),
    ("B", expand(b_rows, b_rows_mid)),
    ("CD8 T", expand(cd8_rows, cd8_rows_mid, extra=cd8_extra)),
    ("FCGR3A+ Mono", expand(fcgr_rows, fcgr_rows_mid, extra=fcgr_extra)),
    ("NK", expand(nk_rows, nk_rows_mid, extra=nk_extra)),
    ("DC", expand(extra=dc_points)),
    ("Platelet", expand(extra=platelet_points)),
]
df = pd.concat([pd.DataFrame({"tSNE_1": xs, "tSNE_2": ys, "ident": name})
                for name, (xs, ys) in parts], ignore_index=True)

palette = dict(zip(clusters, colors))

# ------------------------------------------------------------
# plot
# ------------------------------------------------------------
sns.set_style("ticks")
plt.rcParams["font.family"] = ["DejaVu Sans"]
plt.rcParams["axes.unicode_minus"] = False

fig = plt.figure(figsize=(13.44, 9.6), dpi=100)
ax = fig.add_axes([0.1875, 0.0885, 0.689, 0.897])

sns.scatterplot(data=df, x="tSNE_1", y="tSNE_2", hue="ident", palette=palette,
                s=80, linewidth=0, alpha=1, legend=False, ax=ax)

for i, name in enumerate(label_names):
    col = palette[name]
    ax.plot(seg_x[i], seg_y[i], color=col, lw=1.6, solid_capstyle="butt", zorder=3)
    ax.text(label_x[i], label_y[i], name, ha="center", va="center",
            fontsize=19.3, color="black", zorder=4)

ax.set_xlim(-42.1, 48.0)
ax.set_ylim(-42.6, 41.2)
ax.set_xticks([-25, 0, 25])
ax.set_yticks([-40, -20, 0, 20, 40])
ax.set_xlabel("tSNE_1", fontsize=21.5, labelpad=6)
ax.set_ylabel("tSNE_2", fontsize=21.5, labelpad=6)
ax.tick_params(labelsize=16.4, length=5, width=1.4, colors="black", pad=5)
for side in ["left", "bottom"]:
    ax.spines[side].set_linewidth(1.6)
    ax.spines[side].set_color("black")
sns.despine(ax=ax)

fig.savefig("out.png", dpi=100)
